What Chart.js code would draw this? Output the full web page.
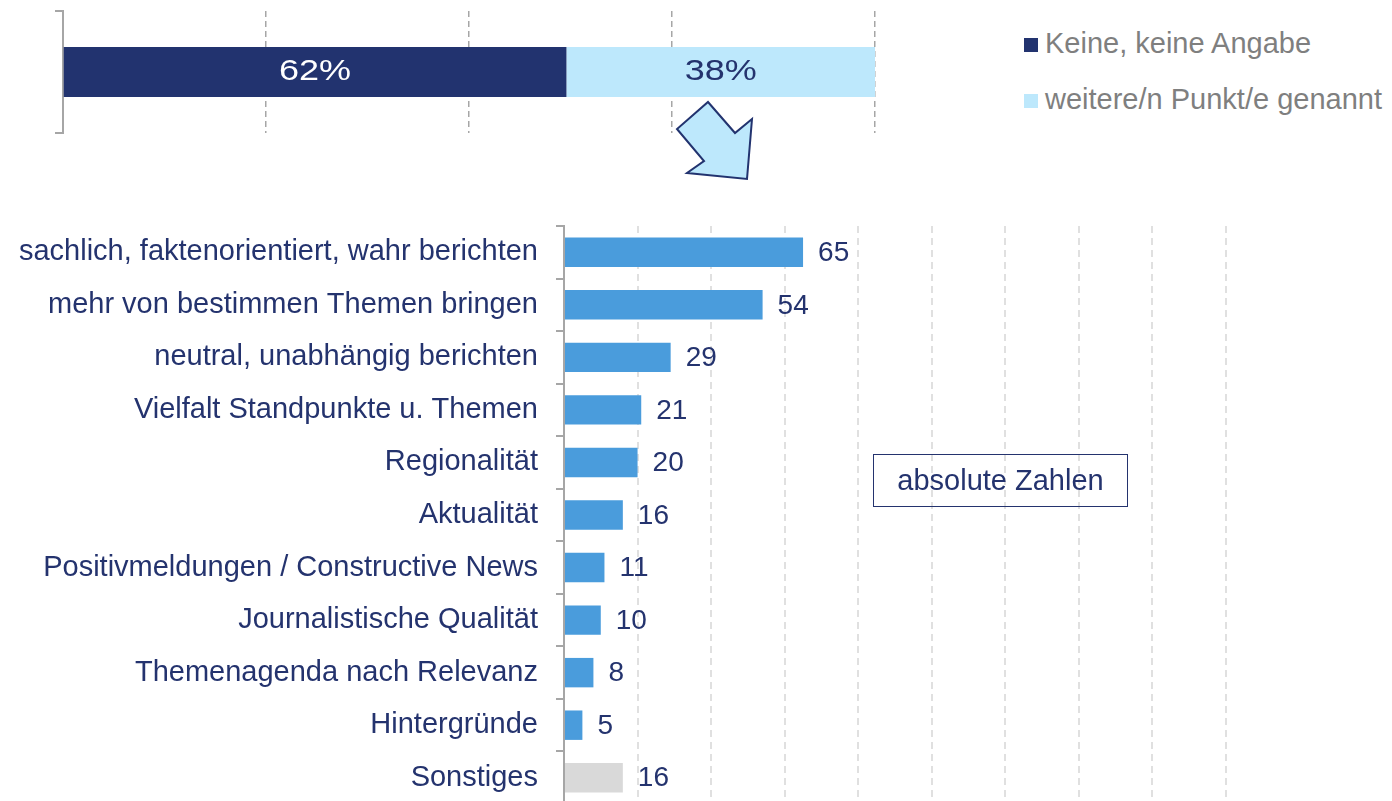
<!DOCTYPE html>
<html><head><meta charset="utf-8">
<script src="https://cdn.jsdelivr.net/npm/chart.js@4.4.1/dist/chart.umd.min.js"></script>
<style>
html,body{margin:0;padding:0;width:1392px;height:801px;overflow:hidden;background:#fff;font-family:"Liberation Sans",Arial,sans-serif;}
#top{position:absolute;left:0;top:0;}
#bottom{position:absolute;left:0;top:200px;}
.sq{position:absolute;width:14px;height:14px;}
.lt{position:absolute;font-size:29px;line-height:33px;color:#7F7F7F;white-space:nowrap;}
#note{position:absolute;left:873px;top:454px;width:255px;height:53px;box-sizing:border-box;border:1.5px solid #24336E;color:#24336E;font-size:29px;display:flex;align-items:center;justify-content:center;}
</style></head>
<body>
<canvas id="top" width="900" height="200"></canvas>
<canvas id="bottom" width="1392" height="606"></canvas>
<div class="sq" id="sq0" style="left:1024px;top:38px;"></div>
<div class="lt" id="lt0" style="left:1045px;top:26.5px;"></div>
<div class="sq" id="sq1" style="left:1024px;top:94px;"></div>
<div class="lt" id="lt1" style="left:1045px;top:82.5px;"></div>
<div id="note">absolute Zahlen</div>
<script>
// ---- data ----
const topSeries = ['Keine, keine Angabe', 'weitere/n Punkt/e genannt'];
const topValues = [62, 38];
const topColors = ['#22336F', '#BDE8FC'];
const topLabelColors = ['#FFFFFF', '#24336E'];

const categories = [
  'sachlich, faktenorientiert, wahr berichten',
  'mehr von bestimmen Themen bringen',
  'neutral, unabhängig berichten',
  'Vielfalt Standpunkte u. Themen',
  'Regionalität',
  'Aktualität',
  'Positivmeldungen / Constructive News',
  'Journalistische Qualität',
  'Themenagenda nach Relevanz',
  'Hintergründe',
  'Sonstiges'
];
const counts = [65, 54, 29, 21, 20, 16, 11, 10, 8, 5, 16];
const barColors = ['#4A9CDC','#4A9CDC','#4A9CDC','#4A9CDC','#4A9CDC','#4A9CDC','#4A9CDC','#4A9CDC','#4A9CDC','#4A9CDC','#D9D9D9'];
const xMax = 180, xStep = 20;
const topMax = 100, topStep = 25;

const NAVY = '#24336E';
const FONT = '"Liberation Sans", Arial, sans-serif';

// legend (HTML)
topSeries.forEach((s, i) => {
  document.getElementById('sq' + i).style.background = topColors[i];
  document.getElementById('lt' + i).textContent = s;
});

// ---- plugins ----
const topLabels = {
  id: 'topLabels',
  afterDatasetsDraw(chart) {
    const ctx = chart.ctx;
    chart.data.datasets.forEach((ds, i) => {
      chart.getDatasetMeta(i).data.forEach((bar, j) => {
        ctx.save();
        ctx.translate((bar.x + bar.base) / 2, bar.y);
        ctx.scale(1.2, 1);
        ctx.font = '30px ' + FONT;
        ctx.fillStyle = topLabelColors[i];
        ctx.textAlign = 'center';
        ctx.textBaseline = 'middle';
        ctx.fillText(ds.data[j] + '%', 0, 0);
        ctx.restore();
      });
    });
  }
};
const arrow = {
  id: 'arrow',
  afterDraw(chart) {
    const ctx = chart.ctx;
    const x0 = chart.scales.x.getPixelForValue(75);
    const y0 = chart.chartArea.bottom;
    const pts = [[36,-31],[63,0],[80,-14],[75,46],[15,40],[32,28],[5,-4]];
    ctx.save();
    ctx.beginPath();
    pts.forEach((p, k) => { k ? ctx.lineTo(x0 + p[0], y0 + p[1]) : ctx.moveTo(x0 + p[0], y0 + p[1]); });
    ctx.closePath();
    ctx.fillStyle = '#BDE8FC';
    ctx.fill();
    ctx.lineWidth = 2;
    ctx.strokeStyle = '#22336F';
    ctx.lineJoin = 'miter';
    ctx.stroke();
    ctx.restore();
  }
};
const valueLabels = {
  id: 'valueLabels',
  afterDatasetsDraw(chart) {
    const ctx = chart.ctx;
    chart.data.datasets.forEach((ds, i) => {
      chart.getDatasetMeta(i).data.forEach((bar, j) => {
        ctx.save();
        ctx.font = '28px ' + FONT;
        ctx.fillStyle = NAVY;
        ctx.textAlign = 'left';
        ctx.textBaseline = 'middle';
        ctx.fillText(String(ds.data[j]), bar.x + 15, bar.y + 1);
        ctx.restore();
      });
    });
  }
};
const noPad = s => { s.paddingTop = 0; s.paddingBottom = 0; s.paddingLeft = 0; s.paddingRight = 0; };

// ---- top chart ----
new Chart(document.getElementById('top'), {
  type: 'bar',
  data: {
    labels: [''],
    datasets: topSeries.map((s, i) => ({
      label: s, data: [topValues[i]], backgroundColor: topColors[i],
      borderWidth: 0, barPercentage: 0.41, categoryPercentage: 1
    }))
  },
  options: {
    indexAxis: 'y', responsive: false, animation: false,
    layout: { autoPadding: false, padding: { left: 0, top: 11, right: 25, bottom: 67 } },
    plugins: { legend: { display: false }, tooltip: { enabled: false } },
    scales: {
      x: {
        stacked: true, min: 0, max: topMax,
        ticks: { display: false, stepSize: topStep },
        grid: { drawTicks: false, lineWidth: 1.5, color: c => c.tick && c.tick.value === 0 ? 'rgba(0,0,0,0)' : '#A6A6A6' },
        border: { display: false, dash: [6, 4] },
        afterFit: s => { s.height = 0; noPad(s); }
      },
      y: {
        stacked: true,
        ticks: { display: false },
        grid: { drawOnChartArea: false, offset: true, tickLength: 8, color: '#A6A6A6', lineWidth: 2 },
        border: { display: true, color: '#A6A6A6', width: 2 },
        afterFit: s => { s.width = 63; noPad(s); }
      }
    }
  },
  plugins: [topLabels, arrow]
});

// ---- bottom chart ----
new Chart(document.getElementById('bottom'), {
  type: 'bar',
  data: {
    labels: categories,
    datasets: [{
      label: 'absolute Zahlen', data: counts, backgroundColor: barColors,
      borderWidth: 0, barPercentage: 0.56, categoryPercentage: 1
    }]
  },
  options: {
    indexAxis: 'y', responsive: false, animation: false,
    layout: { autoPadding: false, padding: { left: 0, top: 26, right: 166, bottom: 2 } },
    plugins: { legend: { display: false }, tooltip: { enabled: false } },
    scales: {
      x: {
        min: 0, max: xMax,
        ticks: { display: false, stepSize: xStep },
        grid: { drawTicks: false, lineWidth: 2, color: c => c.tick && c.tick.value === 0 ? 'rgba(0,0,0,0)' : '#E0E0E0' },
        border: { display: false, dash: [7, 5] },
        afterFit: s => { s.height = 0; noPad(s); }
      },
      y: {
        ticks: { autoSkip: false, color: NAVY, font: { size: 29, family: FONT }, padding: 18 },
        grid: { drawOnChartArea: false, offset: true, tickLength: 8, color: '#A6A6A6', lineWidth: 2 },
        border: { display: true, color: '#A6A6A6', width: 2 },
        afterFit: s => { s.width = 564; noPad(s); }
      }
    }
  },
  plugins: [valueLabels]
});
</script>
</body></html>
